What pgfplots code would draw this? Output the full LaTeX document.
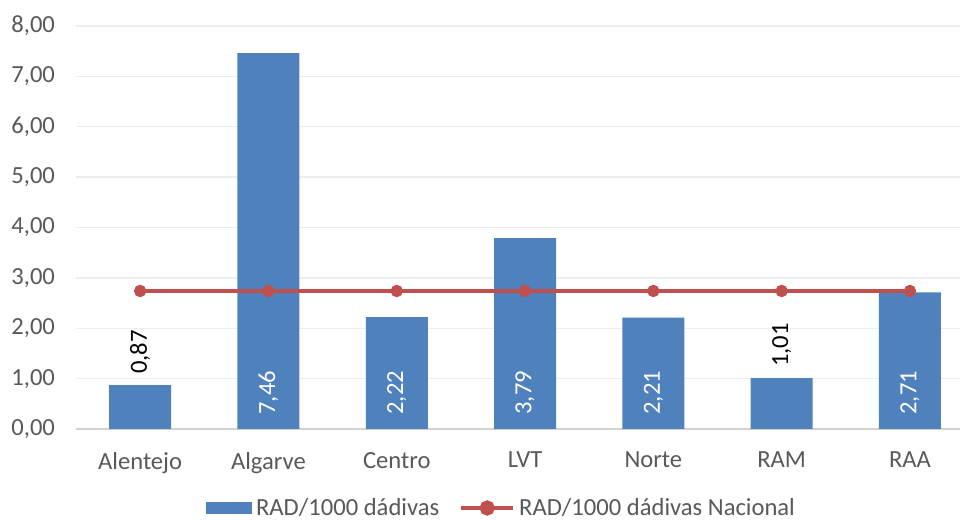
\documentclass[border=0pt]{standalone}
\usepackage{fontspec}
\setmainfont{Carlito}
\usepackage{pgfplots}
\pgfplotsset{compat=1.18}
\definecolor{barblue}{HTML}{4F81BD}
\definecolor{linered}{HTML}{C0504D}
\definecolor{ticktxt}{HTML}{595959}
\begin{document}
\begin{tikzpicture}
\useasboundingbox (-38pt,-45.5pt) rectangle (442pt,214.5pt);
\begin{axis}[
  at={(0,0)}, anchor=south west,
  scale only axis, width=442pt, height=201.5pt,
  xmin=-0.5, xmax=6.39, ymin=0, ymax=8,
  xtick={0,...,6},
  xticklabels={Alentejo,Algarve,Centro,LVT,Norte,RAM,RAA},
  ytick={0,1,...,8},
  major tick length=0pt,
  axis line style={draw=none},
  ymajorgrids, grid style={color=black!7, line width=0.7pt},
  extra y ticks={0}, extra y tick labels={},
  extra y tick style={grid style={color=black!18, line width=0.8pt}},
  /pgf/number format/.cd, fixed, fixed zerofill, precision=2, use comma, assume math mode=true,
  /pgfplots/.cd,
  tick label style={font=\fontsize{12.3}{14}\selectfont, color=ticktxt},
  yticklabel style={xshift=-7pt},
  xticklabel style={yshift=-8pt},
  legend style={at={(0.4825,0)}, anchor=center, yshift=-39.5pt, draw=none,
    font=\fontsize{12.3}{14}\selectfont, text=ticktxt, legend columns=2,
    /tikz/every even column/.append style={column sep=8pt}},
  legend cell align=left,
  clip=false,
]
\addplot[ybar, bar width=31pt, fill=barblue, draw=none,
  area legend,
  legend image code/.code={\fill[barblue] (0pt,-3pt) rectangle (23pt,3pt);}]
  coordinates {(0,0.87) (1,7.46) (2,2.22) (3,3.79) (4,2.21) (5,1.01) (6,2.71)};
\addlegendentry{RAD/1000 dádivas}
\addplot[color=linered, line width=2pt, mark=*, mark size=2.8pt,
  mark options={line width=0.6pt},
  legend image code/.code={\draw[linered, line width=2pt] (0pt,0pt) -- (26pt,0pt);
    \fill[linered] (13pt,0pt) circle (2.8pt);}]
  coordinates {(0,2.74) (1,2.74) (2,2.74) (3,2.74) (4,2.74) (5,2.74) (6,2.74)};
\addlegendentry{RAD/1000 dádivas Nacional}
\addplot[draw=none, mark=none, forget plot, nodes near coords, point meta=explicit symbolic,
  every node near coord/.style={rotate=90, anchor=west, inner xsep=7pt, inner ysep=0pt,
    text=white, font=\fontsize{12.3}{14}\selectfont}]
  coordinates {(1,0) [7{,}46] (2,0) [2{,}22] (3,0) [3{,}79] (4,0) [2{,}21] (6,0) [2{,}71]};
\addplot[draw=none, mark=none, forget plot, nodes near coords, point meta=explicit symbolic,
  every node near coord/.style={rotate=90, anchor=west, inner xsep=5.5pt, inner ysep=0pt,
    text=black, font=\fontsize{12.3}{14}\selectfont}]
  coordinates {(0,0.87) [0{,}87] (5,1.01) [1{,}01]};
\end{axis}
\end{tikzpicture}
\end{document}
